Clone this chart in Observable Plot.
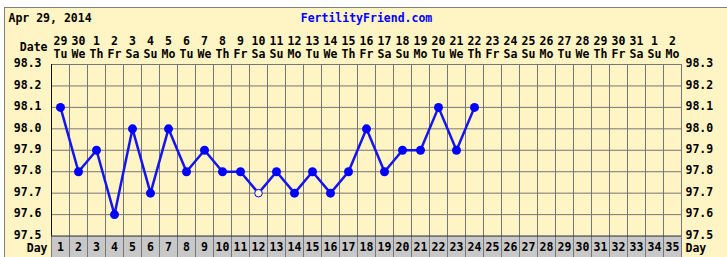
<!DOCTYPE html>
<html>
<head>
<meta charset="utf-8">
<script src="https://cdn.jsdelivr.net/npm/d3@7"></script>
<script src="https://cdn.jsdelivr.net/npm/@observablehq/plot@0.6"></script>
<style>
  html, body { margin: 0; padding: 0; background: white; }
  #wrap { position: relative; width: 727px; height: 257px; overflow: hidden; }
  #panel { position: absolute; left: 4px; top: 7px; right: -2px; bottom: -2px;
           background: #FFF4C4; border-top: 1px solid #808080; border-left: 1px solid #808080; }
  #chart { position: absolute; left: 0; top: 0; }
</style>
</head>
<body>
<div id="wrap"><div id="panel"></div><div id="chart"></div></div>
<script>
const titleDate = "Apr 29, 2014";
const siteName = "FertilityFriend.com";
const cycleDays = d3.range(1, 36);
const dateLabels = ["29","30","1","2","3","4","5","6","7","8","9","10","11","12","13","14","15","16","17","18","19","20","21","22","23","24","25","26","27","28","29","30","31","1","2"];
const weekdayLabels = ["Tu","We","Th","Fr","Sa","Su","Mo","Tu","We","Th","Fr","Sa","Su","Mo","Tu","We","Th","Fr","Sa","Su","Mo","Tu","We","Th","Fr","Sa","Su","Mo","Tu","We","Th","Fr","Sa","Su","Mo"];
const tempTicks = [97.5, 97.6, 97.7, 97.8, 97.9, 98.0, 98.1, 98.2, 98.3];
const tempDays = [1,2,3,4,5,6,7,8,9,10,11,12,13,14,15,16,17,18,19,20,21,22,23,24];
const temps = [98.1,97.8,97.9,97.6,98.0,97.7,98.0,97.8,97.9,97.8,97.8,97.7,97.8,97.7,97.8,97.7,97.8,98.0,97.8,97.9,97.9,98.1,97.9,98.1];
const openDays = [12];

const readings = tempDays.map((d, i) => ({day: d, temp: temps[i], open: openDays.includes(d)}));
const bounds = d3.range(0.5, 36, 1);
const yMin = 97.5, yMax = 98.3, bandBottom = 97.4;
const bandMid = (bandBottom + yMin) / 2;

const chart = Plot.plot({
  width: 727,
  height: 257,
  marginLeft: 51,
  marginRight: 46,
  marginTop: 64,
  marginBottom: 0,
  style: {background: "transparent", fontFamily: "'DejaVu Sans Mono', monospace", fontWeight: "bold", fontSize: "11.5px", color: "black"},
  x: {domain: [0.5, 35.5], axis: null},
  y: {domain: [bandBottom, yMax], axis: null},
  marks: [
    // day band
    Plot.rect(cycleDays, {x1: d => d - 0.5, x2: d => d + 0.5, y1: bandBottom, y2: yMin, fill: "#C8C8C8"}),
    // grid
    Plot.ruleX(bounds, {y1: bandBottom, y2: yMax, stroke: "#767676", strokeWidth: 1, strokeOpacity: 1}),
    Plot.ruleY(tempTicks.filter(t => t > yMin), {x1: 0.5, x2: 35.5, stroke: "#767676", strokeOpacity: 1}),
    Plot.ruleY([yMin], {x1: 0.5, x2: 35.5, stroke: "#333", strokeOpacity: 1}),
    Plot.ruleX([0.5], {y1: yMin, y2: yMax, stroke: "#111", strokeOpacity: 1}),
    // day numbers
    Plot.text(cycleDays, {x: d => d, y: bandMid, dy: 1, text: d => String(d), fill: "black"}),
    Plot.text(["Day"], {x: 0.5, y: bandMid, dy: 2, dx: -4, textAnchor: "end", fill: "black"}),
    Plot.text(["Day"], {x: 35.5, y: bandMid, dy: 2, dx: 4, textAnchor: "start", fill: "black"}),
    // temperature axis labels
    Plot.text(tempTicks, {x: 0.5, y: d => d, text: d => d.toFixed(1), dy: -1, dx: -10, textAnchor: "end", fill: "black"}),
    Plot.text(tempTicks, {x: 35.5, y: d => d, text: d => d.toFixed(1), dy: -1, dx: 4, textAnchor: "start", fill: "black"}),
    // header dates
    Plot.text(cycleDays, {x: d => d, frameAnchor: "top", lineAnchor: "middle", dy: -23, text: d => dateLabels[d - 1], fill: "black"}),
    Plot.text(cycleDays, {x: d => d, frameAnchor: "top", lineAnchor: "middle", dy: -10, text: d => weekdayLabels[d - 1], fill: "black"}),
    Plot.text(["Date"], {frameAnchor: "top-left", lineAnchor: "middle", dx: -4, dy: -17, textAnchor: "end", fill: "black"}),
    // titles
    Plot.text([titleDate], {frameAnchor: "top-left", lineAnchor: "middle", dx: -43, dy: -46, textAnchor: "start", fill: "black"}),
    Plot.text([siteName], {frameAnchor: "top", lineAnchor: "middle", dy: -46, fill: "#0000FF"}),
    // temperature line
    Plot.line(readings, {x: "day", y: "temp", stroke: "#1414F0", strokeWidth: 2.5}),
    Plot.dot(readings.filter(d => !d.open), {x: "day", y: "temp", r: 4.5, fill: "#0000FF", stroke: "none"}),
    Plot.dot(readings.filter(d => d.open), {x: "day", y: "temp", r: 3.8, fill: "#FFF4C4", stroke: "#0000FF", strokeWidth: 1})
  ]
});
document.getElementById("chart").appendChild(chart);
</script>
</body>
</html>
